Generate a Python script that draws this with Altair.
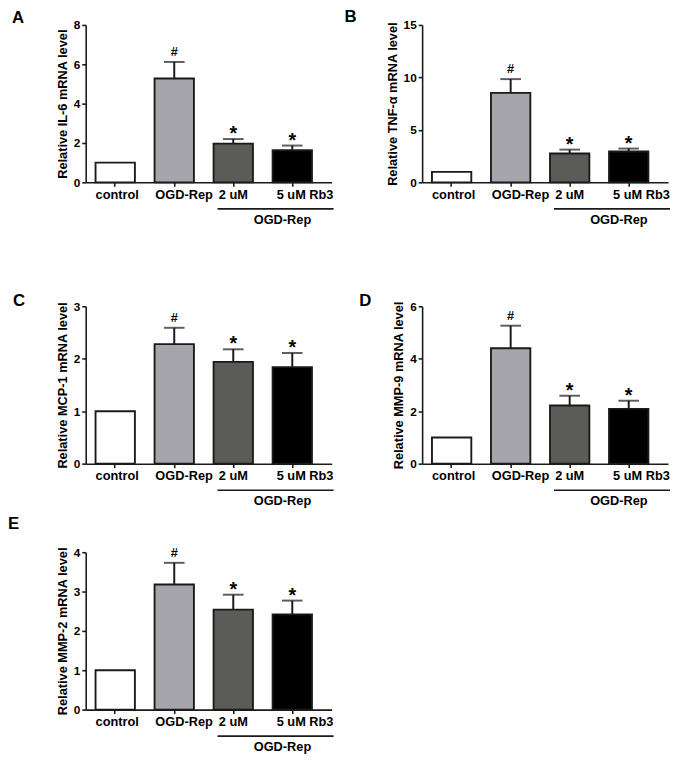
import altair as alt
import pandas as pd

categories = ["control", "OGD-Rep", "2 uM", "5 uM Rb3"]
fill_colors = ["#ffffff", "#a6a5ab", "#5b5c57", "#000000"]
sig_marks = ["", "#", "*", "*"]

il6_mean = [1.0, 5.28, 1.97, 1.63]
il6_sem = [0.0, 0.84, 0.23, 0.24]
tnf_mean = [1.0, 8.53, 2.75, 2.94]
tnf_sem = [0.0, 1.31, 0.37, 0.28]
mcp1_mean = [1.0, 2.28, 1.94, 1.84]
mcp1_sem = [0.0, 0.31, 0.24, 0.27]
mmp9_mean = [1.0, 4.40, 2.22, 2.09]
mmp9_sem = [0.0, 0.86, 0.37, 0.31]
mmp2_mean = [1.0, 3.18, 2.54, 2.42]
mmp2_sem = [0.0, 0.55, 0.38, 0.35]

bracket_label = "OGD-Rep"

FONT = "Liberation Sans"
INK = "#1a1a1a"
W, H = 250, 160


def panel(letter, ytitle, means, sems, ymax, step, letter_dx, letter_offset):
    df = pd.DataFrame({"cat": categories, "mean": means, "sem": sems, "sig": sig_marks})
    df["top"] = df["mean"] + df["sem"]
    xs = alt.Scale(domain=categories, paddingInner=1 / 3, paddingOuter=0.25, align=1 / 3)
    ys = alt.Scale(domain=[0, ymax], nice=False)
    x_axis = alt.Axis(
        title=None, labelAngle=0, labelFontSize=13, labelPadding=2,
        labelOffset={
            "condition": [
                {"test": "datum.value === 'OGD-Rep'", "value": 10},
                {"test": "datum.value === '5 uM Rb3'", "value": 13},
                {"test": "datum.value === 'control'", "value": 2},
            ],
            "value": 0,
        },
    )
    y_axis = alt.Axis(title=ytitle, values=list(range(0, ymax + 1, step)), format="d")
    base = alt.Chart(df)
    xenc = alt.X("cat:N", scale=xs, sort=categories, axis=x_axis)
    bars = base.mark_bar(stroke=INK, strokeWidth=1.9).encode(
        x=xenc,
        y=alt.Y("mean:Q", scale=ys, axis=y_axis),
        fill=alt.Fill("cat:N", scale=alt.Scale(domain=categories, range=fill_colors), legend=None),
    )
    witherr = base.transform_filter("datum.sem > 0")
    err = witherr.mark_rule(color=INK, strokeWidth=2).encode(
        x=xenc, y=alt.Y("mean:Q", axis=y_axis), y2="top:Q")
    cap = witherr.mark_tick(color=INK, thickness=2, size=21).encode(
        x=xenc, y=alt.Y("top:Q", axis=y_axis))
    hash_ = base.transform_filter("datum.sig == '#'").mark_text(
        font=FONT, fontSize=13, fontWeight="bold", baseline="alphabetic", dy=-6, color="black"
    ).encode(x=xenc, y=alt.Y("top:Q", axis=y_axis), text="sig:N")
    star = base.transform_filter("datum.sig == '*'").mark_text(
        font=FONT, fontSize=20, fontWeight="bold", baseline="alphabetic", dy=1, color="black"
    ).encode(x=xenc, y=alt.Y("top:Q", axis=y_axis), text="sig:N")
    bdf = pd.DataFrame({"b1": [categories[2]], "b2": [categories[3]], "lab": [bracket_label]})
    bline = alt.Chart(bdf).mark_rule(color=INK, strokeWidth=1.6).encode(
        x=alt.X("b1:N", bandPosition=0.1, axis=x_axis),
        x2=alt.value(W + 2),
        y=alt.value(H + 27),
    )
    btext = alt.Chart(bdf).mark_text(
        font=FONT, fontSize=13, fontWeight="bold", baseline="middle", color="black"
    ).encode(
        x=alt.X("b2:N", bandPosition=0.25, axis=x_axis),
        y=alt.value(H + 38),
        text="lab:N",
    )
    return alt.layer(bars, err, cap, hash_, star, bline, btext).properties(
        width=W, height=H,
        title=alt.TitleParams(letter, anchor="start", frame="group", dx=letter_dx,
                              offset=letter_offset, fontSize=17, fontWeight="bold",
                              font=FONT, color="black"),
    )


pA = panel("A", "Relative IL-6 mRNA level", il6_mean, il6_sem, 8, 2, -75, -8)
pB = panel("B", "Relative TNF-\u03b1  mRNA level", tnf_mean, tnf_sem, 15, 5, -79, -7)
pC = panel("C", "Relative MCP-1 mRNA level", mcp1_mean, mcp1_sem, 3, 1, -74, -10)
pD = panel("D", "Relative MMP-9 mRNA level", mmp9_mean, mmp9_sem, 6, 2, -64, -10)
pE = panel("E", "Relative MMP-2 mRNA level", mmp2_mean, mmp2_sem, 4, 1, -79, 14)

top = alt.vconcat(alt.hconcat(pA, pB, spacing=10), alt.hconcat(pC, pD, spacing=25), spacing=67)
chart = alt.vconcat(top, pE, spacing=7).properties(
    padding={"top": -6, "left": 0, "right": 0, "bottom": 0}
).configure_view(
    stroke=None
).configure_axis(
    domainColor=INK, domainWidth=1.6, tickColor=INK, tickWidth=1.6, tickSize=4,
    labelFont=FONT, labelFontWeight="bold", labelColor="black", labelFontSize=12,
    titleFont=FONT, titleFontWeight="bold", titleFontSize=13, titleColor="black",
    grid=False, titlePadding=4, labelPadding=2,
)

chart.save("out.html", embed_options={"renderer": "svg", "actions": False})
